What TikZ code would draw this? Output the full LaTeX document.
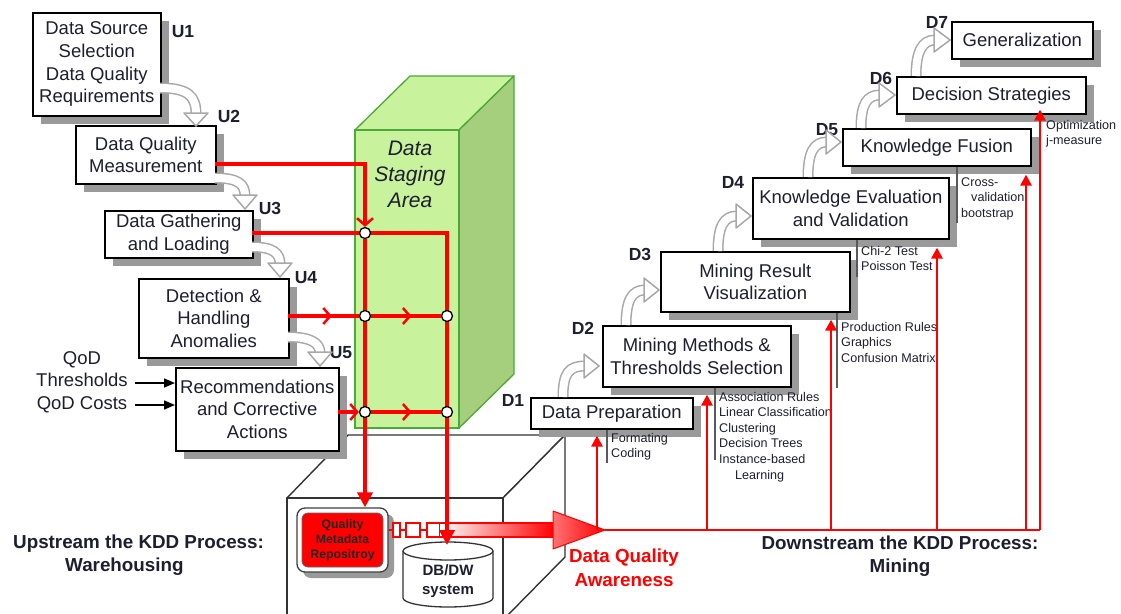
\documentclass[tikz,border=0pt]{standalone}
\usepackage{fontspec}
\setmainfont{Liberation Sans}
\usetikzlibrary{arrows.meta,shapes.geometric,shadows,decorations.markings,calc}
\definecolor{txt}{HTML}{1E1E2E}
\definecolor{shd}{HTML}{9A9A9A}
\definecolor{gfront}{HTML}{C8F29C}
\definecolor{gside}{HTML}{A5CF7C}
\definecolor{gline}{HTML}{4CA83A}
\definecolor{hol}{HTML}{A8A8A8}
\pgfdeclarelayer{fg}
\pgfsetlayers{main,fg}
\newcommand\hbend[5]{%
  \draw[hout] #1 .. controls #2 and #3 .. #4;
  \draw[hin] #1 .. controls #2 and #3 .. #4;
  \draw[hhead] #5 -- cycle;}
\begin{document}
\begin{tikzpicture}[x=1pt,y=-1pt,
  pbox/.style={draw=black, line width=1.6pt, fill=white, inner sep=0pt, align=center,
    anchor=north west, font=\fontsize{18.5}{22.7}\selectfont, text=txt,
    drop shadow={shadow xshift=8pt, shadow yshift=-8pt, fill=shd, opacity=1}},
  lab/.style={font=\bfseries\fontsize{17.5}{21}\selectfont, inner sep=0pt, text=txt},
  big/.style={font=\bfseries\fontsize{18.8}{23.5}\selectfont, inner sep=0pt, text=txt},
  note/.style={font=\fontsize{12.6}{15.5}\selectfont, align=left, anchor=north west, inner sep=0pt, text=txt},
  bar/.style={draw=black!65, line width=2.5pt},
  rl/.style={draw=red, line width=4pt},
  rthin/.style={draw=red, line width=2.8pt, -{Triangle[length=11pt,width=11pt]}},
  barb/.style={-{Straight Barb[length=7pt,width=16pt,line width=2.5pt]}},
  midbarb/.style={postaction={decorate}, decoration={markings,
    mark=at position #1 with {\arrow{Straight Barb[length=7pt,width=16pt,line width=2.5pt]}}}},
  hout/.style={draw=hol, line width=11pt},
  hin/.style={draw=white, line width=8pt},
  hhead/.style={draw=hol, line width=1.5pt, fill=white, line join=round},
  jn/.style={circle, draw=black, fill=white, line width=1.3pt, minimum size=11pt, inner sep=0pt},
  sq/.style={rectangle, draw=red, fill=white, line width=1.3pt, inner sep=0pt, minimum height=14pt},
  blk/.style={draw=black, line width=1.5pt, -{Triangle[length=11pt,width=9pt]}},
  cubeln/.style={draw=black!80, line width=1.4pt, fill=white, line join=round}]
\useasboundingbox (0,0) rectangle (1121,613);
\clip (0,0) rectangle (1121,613);

% warehouse cube
\draw[cubeln] (287,498) -- (348,435) -- (565,435) -- (503,498) -- cycle;
\draw[cubeln] (503,498) -- (565,435) -- (565,557) -- (503,620) -- cycle;
\draw[cubeln] (287,498) rectangle (503,620);

% data staging area
\filldraw[fill=gfront, draw=gline, line width=1.3pt, line join=round] (355,130) -- (410,76) -- (514,76) -- (459,130) -- cycle;
\filldraw[fill=gside, draw=gline, line width=1.3pt, line join=round] (459,130) -- (514,76) -- (514,374) -- (459,428) -- cycle;
\filldraw[fill=gfront, draw=gline, line width=1.3pt] (355,130) rectangle (459,428);
\node[font=\itshape\fontsize{21}{26}\selectfont, align=center, inner sep=0pt, text=txt] (dsa) at (410,174) {Data\\Staging\\Area};

% upstream boxes
\node[pbox, minimum width=128, minimum height=103] (u1) at (32,12) {Data Source\\Selection\\Data Quality\\Requirements};
\node[pbox, minimum width=140, minimum height=58] (u2) at (75,125) {Data Quality\\Measurement};
\node[pbox, minimum width=148, minimum height=47] (u3) at (104,210) {Data Gathering\\and Loading};
\node[pbox, minimum width=150, minimum height=79] (u4) at (138,278) {Detection \&\\Handling\\Anomalies};
\node[pbox, minimum width=163, minimum height=83] (u5) at (175,367) {Recommendations\\and Corrective\\Actions};

\node[lab] (lu1) at (183,32) {U1};
\node[lab] (lu2) at (229,116) {U2};
\node[lab] (lu3) at (270,208) {U3};
\node[lab] (lu4) at (306,278) {U4};
\node[lab] (lu5) at (341,353) {U5};

% QoD inputs
\node[font=\fontsize{18.5}{22.5}\selectfont, align=center, inner sep=0pt, text=txt] (qod) at (82,382) {QoD\\Thresholds\\QoD Costs};
\coordinate (q1) at (135,383);
\coordinate (q2) at (135,405);
\draw[blk] (q1) -- (q1 -| u5.west);
\draw[blk] (q2) -- (q2 -| u5.west);

% hollow bent arrows upstream
\hbend{(160,88)}{(188,88)}{(196,96)}{(196,114)}{(184,113) -- (208,113) -- (196,126)}
\hbend{(215,178)}{(238,178)}{(245,184)}{(245,196)}{(233,195) -- (257,195) -- (245,209)}
\hbend{(252,247)}{(273,247)}{(280,253)}{(280,264)}{(268,263) -- (292,263) -- (280,277)}
\hbend{(288,337)}{(311,337)}{(320,343)}{(320,353)}{(308,352) -- (332,352) -- (320,366)}

% downstream boxes
\node[pbox, minimum width=162, minimum height=31] (d1) at (530,397) {Data Preparation};
\node[pbox, minimum width=188, minimum height=61] (d2) at (602,325) {Mining Methods \&\\Thresholds Selection};
\node[pbox, minimum width=189, minimum height=60] (d3) at (660,251) {Mining Result\\Visualization};
\node[pbox, minimum width=196, minimum height=61] (d4) at (752,177) {Knowledge Evaluation\\and Validation};
\node[pbox, minimum width=188, minimum height=37] (d5) at (842,128) {Knowledge Fusion};
\node[pbox, minimum width=189, minimum height=37] (d6) at (896,76) {Decision Strategies};
\node[pbox, minimum width=141, minimum height=37] (d7) at (951,21) {Generalization};

\node[lab] (ld1) at (513,400) {D1};
\node[lab] (ld2) at (583,328) {D2};
\node[lab] (ld3) at (640,254) {D3};
\node[lab] (ld4) at (733,182) {D4};
\node[lab] (ld5) at (827,130) {D5};
\node[lab] (ld6) at (881,78) {D6};
\node[lab] (ld7) at (937,22) {D7};

% hollow bent arrows downstream
\hbend{(563,397)}{(563,373)}{(569,366)}{(585,366)}{(584,354) -- (584,378) -- (599,366)}
\hbend{(626,325)}{(626,300)}{(632,290)}{(645,290)}{(644,278) -- (644,302) -- (659,290)}
\hbend{(718,251)}{(718,226)}{(724,216)}{(737,216)}{(736,204) -- (736,228) -- (751,216)}
\hbend{(808,177)}{(808,152)}{(814,142)}{(827,142)}{(826,130) -- (826,154) -- (841,142)}
\hbend{(861,128)}{(861,104)}{(867,95)}{(880,95)}{(879,83) -- (879,107) -- (895,95)}
\hbend{(916,76)}{(916,52)}{(922,40)}{(935,40)}{(934,28) -- (934,52) -- (950,40)}

% annotation bars and notes
\coordinate (t1) at (607,463);
\coordinate (t2) at (715,460);
\coordinate (t3) at (837,388);
\coordinate (t4) at (857,277);
\coordinate (t5) at (957,223);
\draw[bar] (t1 |- d1.south) -- (t1);
\draw[bar] (t2 |- d2.south) -- (t2);
\draw[bar] (t3 |- d3.south) -- (t3);
\draw[bar] (t4 |- d4.south) -- (t4);
\draw[bar] (t5 |- d5.south) -- (t5);
\node[note] (n1) at (611,433) {Formating\\Coding};
\node[note] (n2) at (719,392) {Association Rules\\Linear Classification\\Clustering\\Decision Trees\\Instance-based\\[1pt]\hspace*{16pt}Learning};
\node[note] (n3) at (841,322) {Production Rules\\Graphics\\Confusion Matrix};
\node[note] (n4) at (861,246) {Chi-2 Test\\Poisson Test};
\node[note] (n5) at (961,177) {Cross-\\\hspace*{10pt}validation\\bootstrap};
\node[note] (n6) at (1046,120) {Optimization\\j-measure};

% repository and DB
\node[draw=black!75, line width=1.3pt, fill=white, rounded corners=8pt, minimum width=91, minimum height=64, inner sep=0pt,
  drop shadow={shadow xshift=6pt, shadow yshift=-6pt, fill=shd, opacity=1}] (qmrf) at (342.5,540) {};
\node[draw=black!60, line width=0.8pt, fill=red, rounded corners=6pt, minimum width=81, minimum height=54, inner sep=0pt,
  align=center, font=\bfseries\fontsize{12.3}{15}\selectfont, text=black!85] (qmr) at (qmrf.center) {Quality\\Metadata\\Repositroy};

\filldraw[draw=black!80, line width=1.3pt, fill=white] (403,551) -- (403,598) arc[start angle=180, end angle=360, x radius=45pt, y radius=9pt] -- (493,551) arc[start angle=0, end angle=180, x radius=45pt, y radius=9pt] -- cycle;
\draw[draw=black!80, line width=1.3pt] (403,551) arc[start angle=180, end angle=360, x radius=45pt, y radius=9pt];
\node[font=\bfseries\fontsize{15}{19}\selectfont, align=center, inner sep=0pt, text=txt] (db) at (448,581) {DB/DW\\system};
\coordinate (dbtop) at (447,545);

% squares chain and big gradient arrow
\node[sq, minimum width=7pt] (sq1) at (396.5,530) {};
\node[sq, minimum width=14pt] (sq2) at (413,530) {};
\node[sq, minimum width=13pt] (sq3) at (433.5,530) {};
\draw[red, line width=1.3pt] (qmrf.east |- sq1.west) -- (sq1.west) (sq1.east) -- (sq2.west) (sq2.east) -- (sq3.west);
\shade[left color=white, right color=red] (440,523) rectangle (554,537);
\draw[red, line width=1.2pt] (440,523) -- (554,523) (440,537) -- (554,537);
\coordinate (tip) at (605,530);
\shade[left color=red!55, right color=red] (553,511) -- (tip) -- (553,549) -- cycle;
\draw[red, line width=1pt, line join=round] (553,511) -- (tip) -- (553,549) -- cycle;

% red baseline and verticals (downstream)
\coordinate (b1) at (597,530);
\coordinate (b2) at (707,530);
\coordinate (b3) at (831,530);
\coordinate (b4) at (937,530);
\coordinate (b5) at (1026,530);
\coordinate (b6) at (1040,530);
\draw[red, line width=2.2pt] (tip) -- (b6);
\draw[rthin, shorten >=6pt] (b1) -- (b1 |- d1.south);
\draw[rthin, shorten >=7pt] (b2) -- (b2 |- d2.south);
\draw[rthin, shorten >=7pt] (b3) -- (b3 |- d3.south);
\draw[rthin, shorten >=8pt] (b4) -- (b4 |- d4.south);
\draw[rthin, shorten >=8pt] (b5) -- (b5 |- d5.south);
\draw[rthin, shorten >=-5pt] (b6) -- (b6 |- d6.south);

% upstream red connectors with junctions
\begin{pgfonlayer}{fg}
\node[jn] (j1) at (365,233) {};
\node[jn] (j2) at (365,316) {};
\node[jn] (j3) at (447,316) {};
\node[jn] (j4) at (365,412) {};
\node[jn] (j5) at (447,412) {};
\end{pgfonlayer}
\coordinate (u2o) at (215,164);
\coordinate (u3o) at (252,233);
\coordinate (u4o) at (288,316);
\coordinate (u5o) at (338,412);
\coordinate (k1) at (447,233);
\draw[rl, barb] (u2o) -| (j1.north);
\draw[rl, -{Triangle[length=15pt,width=15pt]}] (j1.south) -- (j1 |- qmrf.north);
\draw[rl, -{Triangle[length=15pt,width=15pt]}, line join=miter] (u3o) -- (k1) -- (dbtop);
\draw[rl, midbarb=0.62] (u4o) -- (j2);
\draw[rl, midbarb=0.58] (j2) -- (j3);
\draw[rl, barb] (u5o) -- (j4);
\draw[rl, midbarb=0.58] (j4) -- (j5);

% big labels
\node[big, anchor=west, align=left] (up) at (13,555) {Upstream the KDD Process:\\\hspace*{52pt}Warehousing};
\node[big, align=center] (down) at (900,556) {Downstream the KDD Process:\\Mining};
\node[big, align=center, text=red] (dqa) at (624,568) {Data Quality\\Awareness};
\end{tikzpicture}
\end{document}
